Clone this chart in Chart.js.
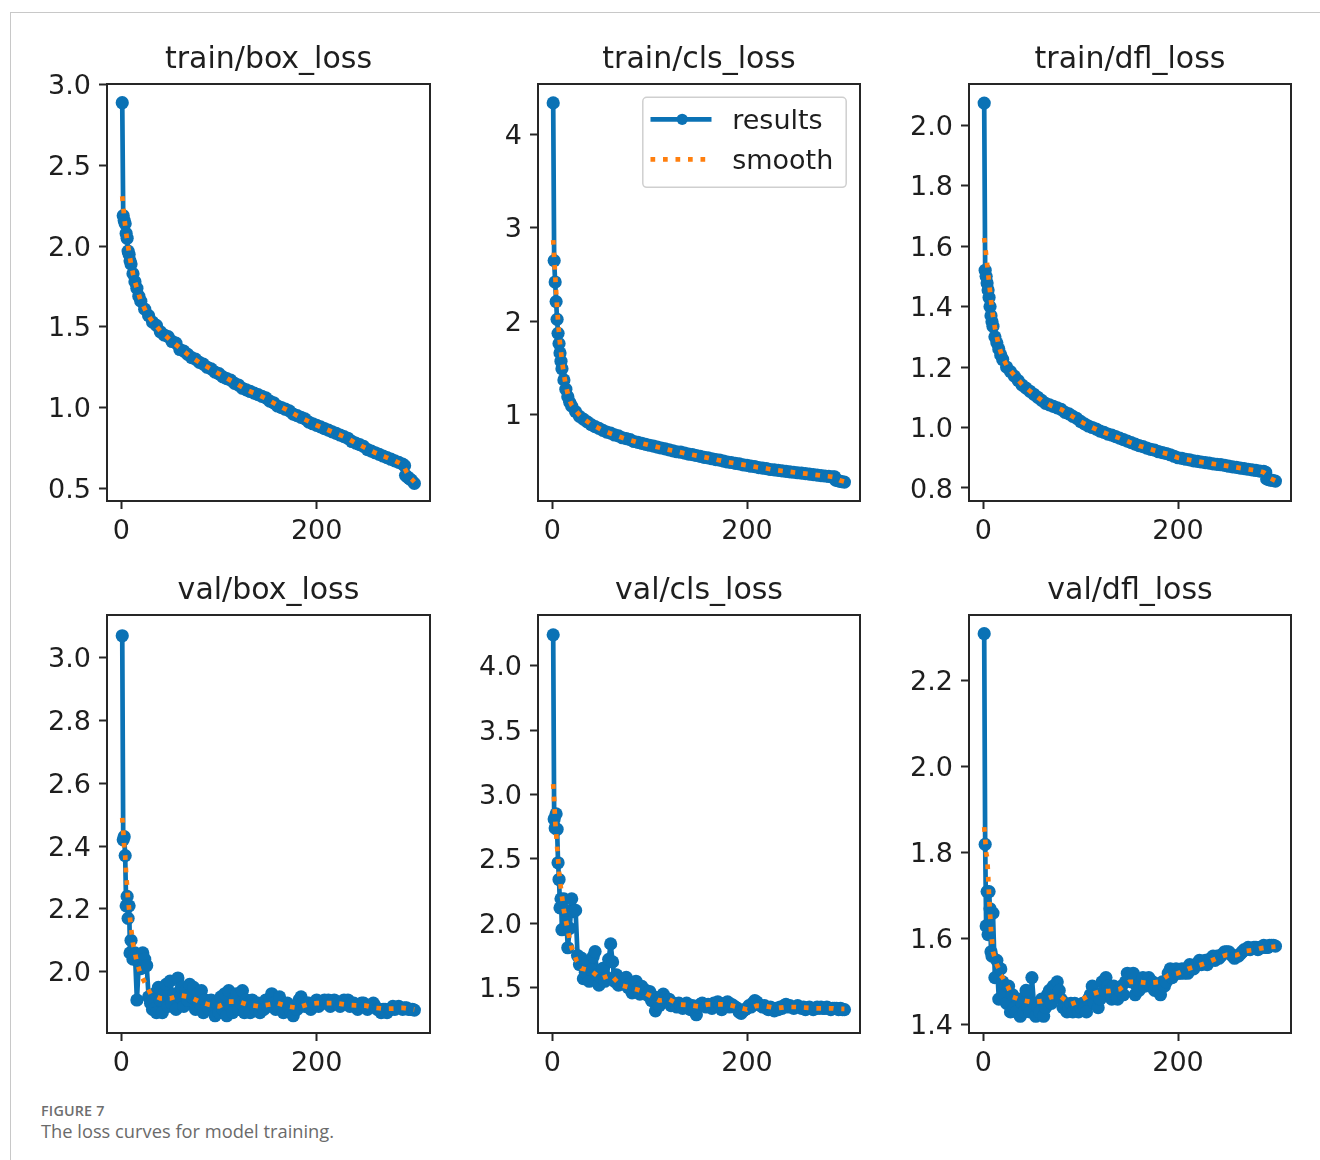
<!DOCTYPE html>
<html><head><meta charset="utf-8">
<script src="https://cdn.jsdelivr.net/npm/chart.js@4.4.1/dist/chart.umd.min.js"></script>
<style>
html,body{margin:0;padding:0;background:#fff;}
body{width:1320px;height:1160px;position:relative;overflow:hidden;}
#frame{position:absolute;left:10px;top:12px;width:1310px;height:1148px;border-top:1px solid #c8c8c8;border-left:1px solid #c8c8c8;box-sizing:border-box;}
canvas{position:absolute;}
#cap1{position:absolute;left:41px;top:1101px;font:600 14.3px "Open Sans",sans-serif;color:#6e6e6e;letter-spacing:0.2px;}
#cap2{position:absolute;left:41px;top:1118px;font:400 18.3px "Open Sans",sans-serif;color:#6a6a6a;}
</style></head><body>
<div id="frame"></div>
<div id="cap1">FIGURE 7</div>
<div id="cap2">The loss curves for model training.</div>
<script>
// ---------- data ----------
const titles = ['train/box_loss','train/cls_loss','train/dfl_loss','val/box_loss','val/cls_loss','val/dfl_loss'];
const xTickValues = [0, 200];

const trainEpochs = [1,2,3,4,5,6,7,8,9,10,12,14,16,18,20,24,28,32,36,40,44,48,52,56,60,64,68,72,76,80,84,88,92,96,100,104,108,112,116,120,124,128,132,136,140,144,148,152,156,160,164,168,172,176,180,184,188,192,196,200,204,208,212,216,220,224,228,232,236,240,244,248,252,256,260,264,268,272,276,280,284,288,290,291,293,295,297,300];
const valEpochs = [1,2,3,4,5,6,7,8,9,10,
 12,14,16,18,20,22,24,26,28,30, 32,34,36,38,40,42,44,46,48,50, 52,54,56,58,60,62,64,66,68,70,
 72,74,76,78,80,82,84,86,88,90, 92,94,96,98,100,102,104,106,108,110, 112,114,116,118,120,122,124,126,128,130,
 132,134,136,138,140,142,144,146,148,150, 152,154,156,158,160,162,164,166,168,170, 172,174,176,178,180,182,184,186,188,190,
 192,194,196,198,200,202,204,206,208,210, 212,214,216,218,220,222,224,226,228,230, 232,234,236,238,240,242,244,246,248,250,
 252,254,256,258,260,262,264,266,268,270, 272,274,276,278,280,282,284,286,288,290, 292,294,296,298,300];
const smoothEpochs = [1,2,3,4,5,6,7,8,10,12,14,16,18,20,25,30,40,50,60,70,80,90,100,110,120,130,140,150,160,170,180,190,200,210,220,230,240,250,260,270,280,285,288,290,292,295,300];

const trainBoxLoss = [2.89,2.19,2.16,2.14,2.08,2.05,1.97,1.95,1.91,1.89, 1.83,1.78,1.74,1.69,1.66,
 1.61,1.57,1.53,1.51,1.47,1.45,1.44,1.41,1.40,1.36, 1.35,1.33,1.31,1.30,1.28,1.27,1.25,1.24,1.22,1.21,
 1.19,1.18,1.17,1.15,1.14,1.12,1.11,1.10,1.09,1.08, 1.07,1.06,1.04,1.03,1.01,1.00,0.99,0.98,0.96,0.95,
 0.94,0.93,0.91,0.90,0.89,0.88,0.87,0.86,0.85,0.84, 0.83,0.82,0.81,0.79,0.78,0.77,0.76,0.74,0.73,0.72,
 0.71,0.70,0.69,0.68,0.67,0.66,0.65,0.64,0.58,0.57, 0.56,0.55,0.53];
const trainBoxSmooth = [2.31,2.25,2.18,2.13,2.08,2.04,2.00,1.96, 1.89,1.83,1.78,1.74,1.70,1.66, 1.60,1.55,
 1.475,1.42,1.37,1.32,1.28,1.245,1.21,1.175,1.14,1.105,1.08,1.05,1.015,0.985,0.95,0.92,0.89,0.865,0.84,0.815,0.78,0.75,0.72,0.695,0.67,
 0.655,0.645,0.625,0.60,0.57,0.54];

const trainClsLoss = [4.34,2.65,2.42,2.21,2.02,1.87,1.76,1.66,1.57,1.49, 1.37,1.27,1.19,1.13,1.09,
 1.03,0.98,0.95,0.92,0.89,0.87,0.85,0.83,0.81,0.80, 0.78,0.77,0.75,0.74,0.73,0.71,0.70,0.69,0.68,0.67,
 0.66,0.65,0.64,0.63,0.62,0.61,0.60,0.595,0.585,0.575, 0.57,0.56,0.55,0.54,0.535,0.525,0.515,0.51,0.50,0.49,
 0.485,0.475,0.47,0.46,0.455,0.445,0.44,0.43,0.425,0.42, 0.41,0.405,0.40,0.395,0.39,0.385,0.38,0.375,0.37,0.365,
 0.36,0.355,0.35,0.345,0.34,0.335,0.33,0.33,0.295,0.29, 0.285,0.28,0.275];
const trainClsSmooth = [2.87,2.68,2.50,2.32,2.15,2.00,1.87,1.76, 1.58,1.43,1.31,1.22,1.15,1.10, 1.03,0.97,
 0.895,0.84,0.795,0.757,0.725,0.695,0.67,0.645,0.62,0.598,0.575,0.555,0.535,0.512,0.49,0.472,0.455,0.435,0.42,0.402,0.39,0.377,0.365,0.352,0.34,
 0.335,0.33,0.322,0.31,0.295,0.28];

const trainDflLoss = [2.073,1.52,1.50,1.478,1.455,1.43,1.40,1.37,1.35,1.335, 1.30,1.28,1.26,1.24,1.225,
 1.20,1.185,1.17,1.155,1.14,1.13,1.12,1.11,1.10,1.09, 1.08,1.075,1.07,1.065,1.06,1.05,1.045,1.037,1.03,1.02,
 1.012,1.005,1.0,0.995,0.988,0.984,0.978,0.975,0.97,0.965, 0.96,0.955,0.95,0.945,0.94,0.937,0.932,0.928,0.925,0.92,
 0.917,0.914,0.91,0.905,0.90,0.898,0.895,0.893,0.89,0.888, 0.886,0.884,0.882,0.88,0.878,0.877,0.875,0.872,0.87,0.868,
 0.866,0.864,0.862,0.86,0.858,0.856,0.855,0.852,0.83,0.828, 0.826,0.825,0.823];
const trainDflSmooth = [1.627,1.60,1.57,1.54,1.51,1.48,1.45,1.42, 1.37,1.33,1.30,1.27,1.25,1.23, 1.20,1.18,
 1.142,1.115,1.09,1.072,1.06,1.04,1.02,1.003,0.988,0.976,0.965,0.952,0.94,0.93,0.92,0.912,0.90,0.894,0.888,0.883,0.878,0.873,0.868,0.863,0.858,
 0.855,0.852,0.847,0.84,0.832,0.824];

const valBoxLoss = [3.07,2.42,2.43,2.37,2.21,2.24,2.17,2.21,2.06,2.10,
 2.04,2.06,1.91,2.03,2.01,2.06,2.04,2.02,1.92,1.90,
 1.88,1.93,1.87,1.95,1.91,1.87,1.93,1.96,1.89,1.97,
 1.90,1.93,1.88,1.98,1.92,1.95,1.89,1.94,1.91,1.96,
 1.92,1.95,1.88,1.93,1.90,1.94,1.87,1.91,1.89,1.88,
 1.91,1.89,1.86,1.90,1.87,1.92,1.88,1.93,1.86,1.94,
 1.89,1.87,1.91,1.93,1.88,1.90,1.94,1.87,1.91,1.90,
 1.87,1.91,1.89,1.88,1.90,1.87,1.89,1.88,1.91,1.89,
 1.91,1.93,1.90,1.88,1.89,1.92,1.89,1.87,1.88,1.90,
 1.88,1.87,1.86,1.89,1.88,1.91,1.92,1.90,1.89,1.90,
 1.90,1.88,1.89,1.90,1.91,1.89,1.90,1.90,1.91,1.90,
 1.91,1.89,1.90,1.91,1.90,1.90,1.89,1.90,1.91,1.90,
 1.91,1.89,1.90,1.90,1.89,1.88,1.89,1.90,1.90,1.89,
 1.88,1.89,1.89,1.90,1.89,1.88,1.88,1.87,1.88,1.88,
 1.87,1.88,1.88,1.89,1.88,1.885,1.89,1.885,1.88,1.885,
 1.885,1.88,1.88,1.88,1.878];
const valBoxSmooth = [2.49,2.45,2.40,2.37,2.31,2.27,2.23,2.20, 2.14,2.09,2.06,2.03,2.01,1.99, 1.96,1.93,
 1.915,1.915,1.925,1.92,1.905,1.895,1.89,1.905,1.905,1.895,1.89,1.895,1.90,1.89,1.885,1.895,1.90,1.90,1.90,1.895,1.893,1.892,1.885,1.882,1.883,
 1.885,1.885,1.884,1.883,1.882,1.88];

const valClsLoss = [4.24,2.81,2.74,2.85,2.73,2.47,2.34,2.12,2.19,1.95,
 2.19,2.10,1.81,1.96,2.19,2.09,2.10,1.75,1.68,1.73,
 1.57,1.62,1.70,1.55,1.64,1.74,1.78,1.60,1.52,1.58,
 1.65,1.55,1.58,1.72,1.84,1.70,1.55,1.60,1.52,1.57,
 1.53,1.55,1.58,1.50,1.53,1.46,1.52,1.55,1.49,1.45,
 1.51,1.47,1.48,1.44,1.47,1.40,1.43,1.32,1.38,1.36,
 1.43,1.45,1.42,1.39,1.41,1.36,1.38,1.37,1.35,1.38,
 1.36,1.34,1.37,1.38,1.36,1.33,1.36,1.34,1.29,1.35,
 1.37,1.38,1.36,1.35,1.37,1.36,1.34,1.38,1.36,1.39,
 1.37,1.33,1.36,1.38,1.39,1.35,1.37,1.36,1.35,1.34,
 1.31,1.30,1.32,1.33,1.34,1.36,1.35,1.38,1.40,1.39,
 1.37,1.36,1.35,1.36,1.34,1.33,1.35,1.34,1.32,1.34,
 1.33,1.35,1.34,1.36,1.37,1.35,1.36,1.35,1.34,1.35,
 1.36,1.35,1.34,1.35,1.33,1.34,1.35,1.34,1.33,1.34,
 1.35,1.34,1.35,1.34,1.34,1.35,1.34,1.33,1.34,1.34,
 1.34,1.33,1.34,1.33,1.33];
const valClsSmooth = [3.08,2.95,2.80,2.70,2.60,2.50,2.40,2.33, 2.21,2.10,2.02,1.95,1.87,1.81, 1.71,1.65,
 1.63,1.57,1.60,1.52,1.50,1.48,1.44,1.40,1.41,1.37,1.365,1.355,1.37,1.37,1.37,1.35,1.33,1.36,1.355,1.34,1.35,1.35,1.345,1.34,1.34,
 1.34,1.34,1.338,1.337,1.336,1.335];

const valDflLoss = [2.31,1.82,1.63,1.71,1.61,1.71,1.67,1.57,1.56,1.66,
 1.51,1.55,1.46,1.53,1.50,1.47,1.45,1.49,1.43,1.47,
 1.44,1.43,1.46,1.42,1.45,1.43,1.48,1.44,1.43,1.51,
 1.45,1.42,1.44,1.43,1.46,1.42,1.44,1.47,1.48,1.45,
 1.49,1.47,1.50,1.48,1.46,1.44,1.45,1.43,1.44,1.45,
 1.43,1.45,1.44,1.43,1.44,1.45,1.44,1.43,1.46,1.47,
 1.49,1.45,1.47,1.44,1.46,1.50,1.48,1.51,1.49,1.48,
 1.46,1.49,1.47,1.46,1.48,1.49,1.47,1.50,1.52,1.51,
 1.50,1.52,1.47,1.49,1.48,1.50,1.51,1.49,1.50,1.51,
 1.49,1.50,1.48,1.49,1.48,1.47,1.50,1.49,1.50,1.52,
 1.53,1.51,1.52,1.53,1.52,1.52,1.53,1.52,1.53,1.52,
 1.54,1.53,1.53,1.54,1.54,1.55,1.54,1.545,1.55,1.54,
 1.55,1.555,1.56,1.55,1.56,1.555,1.56,1.565,1.57,1.57,
 1.57,1.565,1.56,1.555,1.56,1.56,1.565,1.57,1.575,1.575,
 1.58,1.575,1.578,1.58,1.58,1.575,1.58,1.58,1.585,1.58,
 1.58,1.585,1.585,1.585,1.583];
const valDflSmooth = [1.86,1.835,1.80,1.79,1.75,1.70,1.66,1.62, 1.57,1.555,1.54,1.53,1.515,1.51, 1.49,1.465,
 1.457,1.453,1.455,1.465,1.465,1.448,1.457,1.47,1.478,1.479,1.483,1.50,1.50,1.497,1.50,1.515,1.52,1.53,1.537,1.545,1.555,1.563,1.562,1.572,1.575,
 1.578,1.579,1.58,1.58,1.581,1.582];

const yTicksTrainBox = [0.5,1.0,1.5,2.0,2.5,3.0];
const yTicksTrainCls = [1,2,3,4];
const yTicksTrainDfl = [0.8,1.0,1.2,1.4,1.6,1.8,2.0];
const yTicksValBox = [2.0,2.2,2.4,2.6,2.8,3.0];
const yTicksValCls = [1.5,2.0,2.5,3.0,3.5,4.0];
const yTicksValDfl = [1.4,1.6,1.8,2.0,2.2];

// ---------- layout / style ----------
const BLUE = '#0b72b5', ORANGE = '#ff7f0e', TXT = '#1e1e1e', AX = '#262626';
const FONT = '"DejaVu Sans", sans-serif';

const panels = [
  {t:0, ex:trainEpochs, ey:trainBoxLoss, sy:trainBoxSmooth, ticks:yTicksTrainBox, dec:1, ymin:0.421, ymax:3.006, L:107, T:84, W:323, H:417, legend:false},
  {t:1, ex:trainEpochs, ey:trainClsLoss, sy:trainClsSmooth, ticks:yTicksTrainCls, dec:0, ymin:0.072, ymax:4.543, L:538, T:84, W:322, H:417, legend:true},
  {t:2, ex:trainEpochs, ey:trainDflLoss, sy:trainDflSmooth, ticks:yTicksTrainDfl, dec:1, ymin:0.757, ymax:2.136, L:969, T:84, W:322, H:417, legend:false},
  {t:3, ex:valEpochs, ey:valBoxLoss, sy:valBoxSmooth, ticks:yTicksValBox, dec:1, ymin:1.805, ymax:3.136, L:107, T:615, W:323, H:418, legend:false},
  {t:4, ex:valEpochs, ey:valClsLoss, sy:valClsSmooth, ticks:yTicksValCls, dec:1, ymin:1.148, ymax:4.394, L:538, T:615, W:322, H:418, legend:false},
  {t:5, ex:valEpochs, ey:valDflLoss, sy:valDflSmooth, ticks:yTicksValDfl, dec:1, ymin:1.381, ymax:2.3535, L:969, T:615, W:322, H:418, legend:false}
];

const framePlugin = {
  id: 'mplFrame',
  afterDraw(chart) {
    const {ctx, chartArea: a} = chart;
    ctx.save();
    ctx.strokeStyle = AX; ctx.lineWidth = 2;
    ctx.strokeRect(a.left, a.top, a.right - a.left, a.bottom - a.top);
    ctx.restore();
  }
};

const legendPlugin = {
  id: 'mplLegend',
  afterDraw(chart, args, opts) {
    if (!opts.show) return;
    const {ctx, chartArea: a} = chart;
    const w = 203.4, h = 90;
    const x = a.right - 13.8 - w, y = a.top + 13.3;
    ctx.save();
    const r = 4;
    ctx.beginPath();
    ctx.moveTo(x + r, y); ctx.lineTo(x + w - r, y); ctx.arcTo(x + w, y, x + w, y + r, r);
    ctx.lineTo(x + w, y + h - r); ctx.arcTo(x + w, y + h, x + w - r, y + h, r);
    ctx.lineTo(x + r, y + h); ctx.arcTo(x, y + h, x, y + h - r, r);
    ctx.lineTo(x, y + r); ctx.arcTo(x, y, x + r, y, r);
    ctx.closePath();
    ctx.fillStyle = 'rgba(255,255,255,0.8)'; ctx.fill();
    ctx.strokeStyle = '#cfcfcf'; ctx.lineWidth = 1.5; ctx.stroke();
    // results
    ctx.strokeStyle = BLUE; ctx.lineWidth = 4.7; ctx.lineCap = 'butt';
    ctx.beginPath(); ctx.moveTo(x + 7.7, y + 22); ctx.lineTo(x + 68.7, y + 22); ctx.stroke();
    ctx.fillStyle = BLUE; ctx.beginPath(); ctx.arc(x + 39.4, y + 22, 5.6, 0, Math.PI * 2); ctx.fill();
    // smooth
    ctx.strokeStyle = ORANGE; ctx.setLineDash([4.7, 7.8]);
    ctx.beginPath(); ctx.moveTo(x + 7.7, y + 62); ctx.lineTo(x + 68.7, y + 62); ctx.stroke();
    ctx.setLineDash([]);
    ctx.fillStyle = TXT; ctx.font = '27px ' + FONT; ctx.textAlign = 'left'; ctx.textBaseline = 'alphabetic';
    ctx.fillText('results', x + 89.4, y + 31.5);
    ctx.fillText('smooth', x + 89.4, y + 72);
    ctx.restore();
  }
};

panels.forEach(p => {
  const cv = document.createElement('canvas');
  const cw = p.W + 200, ch = p.H + 84 + 60;
  cv.width = cw; cv.height = ch;
  cv.style.width = cw + 'px'; cv.style.height = ch + 'px';
  cv.style.left = (p.L - 100) + 'px'; cv.style.top = (p.T - 84) + 'px';
  document.body.appendChild(cv);
  const xFont = {family: FONT, size: 27, weight: 'normal'};
  const yFont = {family: FONT, size: 27, weight: 'normal', lineHeight: '5px'};
  new Chart(cv, {
    type: 'line',
    data: {
      datasets: [
        {label: 'smooth', data: smoothEpochs.map((e, i) => ({x: e, y: p.sy[i]})),
         borderColor: ORANGE, borderWidth: 4.7, borderDash: [4.7, 7.8], borderCapStyle: 'butt',
         pointRadius: 0, tension: 0, fill: false, order: 0},
        {label: 'results', data: p.ex.map((e, i) => ({x: e, y: p.ey[i]})),
         borderColor: BLUE, borderWidth: 4.7, borderJoinStyle: 'round', borderCapStyle: 'round',
         pointRadius: 6.6, pointBackgroundColor: BLUE,
         pointBorderWidth: 0, pointHoverRadius: 6.6, tension: 0, fill: false, order: 1}
      ]
    },
    options: {
      responsive: false, animation: false, devicePixelRatio: 1,
      events: [],
      layout: {padding: 0, autoPadding: false},
      plugins: {
        legend: {display: false}, tooltip: {enabled: false},
        title: {display: true, text: titles[p.t], color: TXT,
          font: {family: FONT, size: 30, weight: 'normal', lineHeight: 1.2},
          padding: {top: 42, bottom: 6}},
        mplLegend: {show: p.legend}
      },
      scales: {
        x: {
          type: 'linear', position: 'bottom', min: -14.6, max: 316,
          afterBuildTicks: s => { s.ticks = xTickValues.map(v => ({value: v})); },
          afterFit: s => { s.height = 60; },
          ticks: {autoSkip: false, maxRotation: 0, padding: 7, color: TXT, font: xFont, callback: v => String(v)},
          grid: {display: true, drawOnChartArea: false, drawTicks: true, tickLength: 8, tickWidth: 2, tickColor: AX},
          border: {display: false}
        },
        y: {
          type: 'linear', position: 'left', min: p.ymin, max: p.ymax,
          afterBuildTicks: s => { s.ticks = p.ticks.map(v => ({value: v})); },
          afterFit: s => { s.width = 100; },
          ticks: {autoSkip: false, padding: 8, color: TXT, font: yFont, callback: v => ['', Number(v).toFixed(p.dec)]},
          grid: {display: true, drawOnChartArea: false, drawTicks: true, tickLength: 8, tickWidth: 2, tickColor: AX},
          border: {display: false}
        },
        yr: {
          type: 'linear', position: 'right', display: true,
          afterFit: s => { s.width = 100; },
          ticks: {display: false}, grid: {display: false}, border: {display: false}
        }
      }
    },
    plugins: [framePlugin, legendPlugin]
  });
});
</script>
</body></html>
